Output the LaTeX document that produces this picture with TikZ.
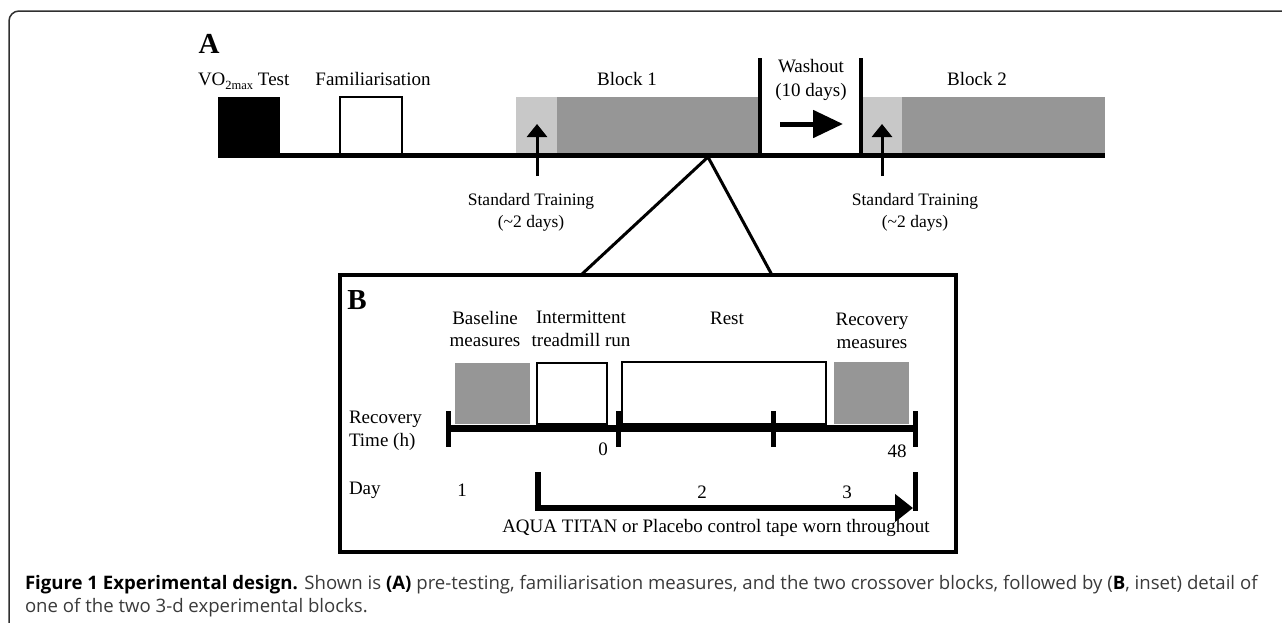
\documentclass[tikz,border=0pt]{standalone}
\usepackage{fontspec}
\setmainfont{Liberation Serif}
\newfontfamily\capfont{Open Sans}
\usetikzlibrary{arrows.meta}
\definecolor{lgrey}{HTML}{C8C8C8}
\definecolor{dgrey}{HTML}{969696}
\definecolor{captxt}{HTML}{3A3A3A}
\definecolor{framec}{HTML}{303030}
\begin{document}
\begin{tikzpicture}[x=1pt,y=-1pt,
  every node/.style={inner sep=0pt, outer sep=0pt},
  boxnw/.style={rectangle, anchor=north west, inner sep=0pt, outer sep=0pt},
  fillbox/.style={boxnw, fill=#1},
  openbox/.style={boxnw, draw=black, line width=#1, fill=white},
  lbl/.style={font=\fontsize{19}{22.5}\selectfont, align=center},
  smalllbl/.style={font=\fontsize{17.5}{22}\selectfont, align=center},
  panellbl/.style={font=\fontsize{29}{30}\selectfont\bfseries},
  thickline/.style={line width=#1, line cap=butt},
  captext/.style={font=\capfont\fontsize{18.6}{22}\selectfont, text=captxt, anchor=base west}
]
\useasboundingbox (0,0) rectangle (1282,622);

% outer frame
\draw[framec, line width=1.5, rounded corners=10pt] (1284,11) -- (9,11) -- (9,624);

% ---------------- Panel A ----------------
\node[panellbl] (A) at (209,44) {A};

\node[fillbox=black, minimum width=62pt, minimum height=58pt] (vo) at (218,97) {};
\node[openbox=2pt, minimum width=62pt, minimum height=58pt] (fam) at (340,97) {};
\node[fillbox=lgrey, minimum width=41pt, minimum height=58pt] (st1) at (516,97) {};
\node[fillbox=dgrey, minimum width=203pt, minimum height=58pt] (b1) at (557,97) {};
\node[fillbox=lgrey, minimum width=39pt, minimum height=58pt] (st2) at (863,97) {};
\node[fillbox=dgrey, minimum width=203pt, minimum height=58pt] (b2) at (902,97) {};

\coordinate (tl0) at (218,155);
\coordinate (tl1) at (1105,155);
\draw[thickline=5pt] (tl0) -- (tl1);

\coordinate (w1t) at (760,58); \coordinate (w1b) at (760,157);
\coordinate (w2t) at (861,58); \coordinate (w2b) at (861,157);
\draw[thickline=4pt] (w1t) -- (w1b);
\draw[thickline=4pt] (w2t) -- (w2b);

\coordinate (wa0) at (780,124); \coordinate (wa1) at (843,124);
\draw[line width=5pt, -{Triangle[length=30pt,width=27pt]}] (wa0) -- (wa1);

\node[lbl, anchor=base west] (votxt) at (198,85) {VO\raisebox{-4.5pt}{\fontsize{12.5}{13}\selectfont 2max} Test};
\node[lbl, anchor=base] (famtxt) at (373,85) {Familiarisation};
\node[lbl, anchor=base] (b1txt) at (627,85) {Block 1};
\node[lbl, anchor=base] (b2txt) at (977,85) {Block 2};
\node[lbl, anchor=base] (wtxt1) at (811,72) {Washout};
\node[lbl, anchor=base] (wtxt2) at (811,96) {(10 days)};

\coordinate (s1b) at (537,176); \coordinate (s1t) at (537,124);
\coordinate (s2b) at (882,176); \coordinate (s2t) at (882,124);
\draw[line width=3pt, -{Triangle[length=13pt,width=20pt]}] (s1b) -- (s1t);
\draw[line width=3pt, -{Triangle[length=13pt,width=20pt]}] (s2b) -- (s2t);
\node[smalllbl] (st1txt) at (531,212) {Standard Training\\(\textasciitilde2 days)};
\node[smalllbl] (st2txt) at (915,212) {Standard Training\\(\textasciitilde2 days)};

% zoom triangle
\coordinate (apex) at (708,157);
\coordinate (fl) at (581,275);
\coordinate (fr) at (772,275);
\draw[line width=3pt, line join=miter] (fl) -- (apex) -- (fr);

% ---------------- Panel B ----------------
\node[boxnw, draw=black, line width=3.5pt, minimum width=616pt, minimum height=277pt] (Bbox) at (340,275) {};
\node[panellbl] (B) at (357,300) {B};

\node[fillbox=dgrey, minimum width=75pt, minimum height=61pt] (base) at (455,363) {};
\node[openbox=1.5pt, minimum width=70pt, minimum height=61pt] (run) at (537,363) {};
\node[openbox=1.5pt, minimum width=204pt, minimum height=62pt] (rest) at (622,362) {};
\node[fillbox=dgrey, minimum width=75pt, minimum height=62pt] (recm) at (834,362) {};

\coordinate (bt0) at (448,428.5);
\coordinate (bt1) at (915,428.5);
\draw[thickline=7pt] (bt0) -- (bt1);
\foreach \n/\x in {k1/448,k2/618,k3/773,k4/915}{
  \coordinate (\n t) at (\x,411);
  \coordinate (\n b) at (\x,447);
  \draw[thickline=5pt] (\n t) -- (\n b);
}

\node[lbl] (basetxt) at (485,329) {Baseline\\measures};
\node[lbl] (runtxt) at (581,329) {Intermittent\\treadmill run};
\node[lbl, anchor=base] (resttxt) at (727,324) {Rest};
\node[lbl] (recmtxt) at (872,331) {Recovery\\measures};

\node[lbl, align=left, anchor=west] (rtime) at (349,431) {Recovery\\Time (h)};
\node[lbl] (zero) at (603,449) {0};
\node[lbl] (fortyeight) at (897,451) {48};

\node[lbl, anchor=west] (day) at (349,490) {Day};
\node[lbl] (d1) at (462,490) {1};
\node[lbl] (d2) at (702,492) {2};
\node[lbl] (d3) at (847,492) {3};

\coordinate (da0) at (538,472);
\coordinate (da1) at (538,508);
\coordinate (da2) at (913,508);
\draw[line width=6pt, line join=miter, -{Triangle[length=18pt,width=27pt]}] (da0) -- (da1) -- (da2);
\coordinate (de0) at (915,472);
\coordinate (de1) at (915,511);
\draw[thickline=5pt] (de0) -- (de1);

\node[lbl] (tape) at (716,528) {AQUA TITAN or Placebo control tape worn throughout};

% ---------------- Caption ----------------
\node[captext] (cap1) at (25,589) {\textbf{\color{black}Figure 1 Experimental design.} Shown is \textbf{\color{black}(A)} pre-testing, familiarisation measures, and the two crossover blocks, followed by (\textbf{\color{black}B}, inset) detail of};
\node[captext] (cap2) at (25,612) {one of the two 3-d experimental blocks.};
\end{tikzpicture}
\end{document}
